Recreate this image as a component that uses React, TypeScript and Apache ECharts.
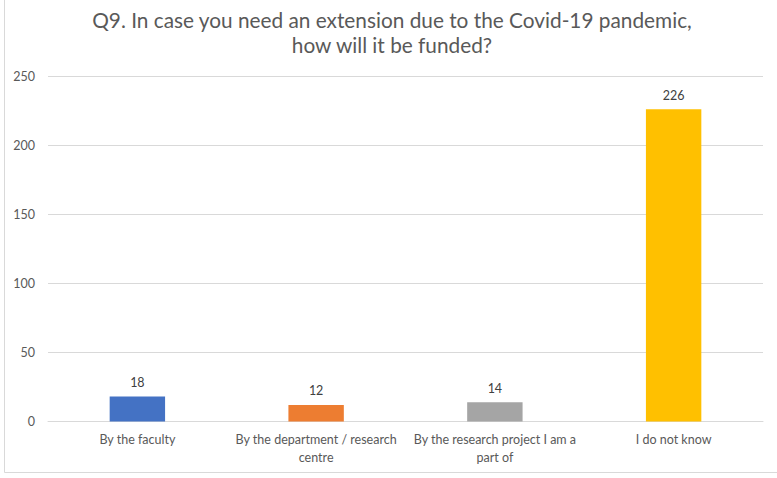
import React, { useEffect, useRef } from "react";
import * as echarts from "echarts";

const titleText = "Q9. In case you need an extension due to the Covid-19 pandemic,\nhow will it be funded?";
const categories = [
  "By the faculty",
  "By the department / research\ncentre",
  "By the research project I am a\npart of",
  "I do not know",
];
const values = [18, 12, 14, 226];
const barColors = ["#4472C4", "#ED7D31", "#A5A5A5", "#FFC000"];
const yMin = 0;
const yMax = 250;
const yStep = 50;

const FONT = "Lato, 'Open Sans', sans-serif";

export default function App() {
  const ref = useRef<HTMLDivElement>(null);

  useEffect(() => {
    if (!ref.current) return;
    const chart = echarts.init(ref.current, undefined, { renderer: "svg" });
    chart.setOption({
      animation: false,
      backgroundColor: "#ffffff",
      textStyle: { fontFamily: FONT },
      title: {
        text: titleText,
        left: 387,
        textAlign: "center",
        top: 2,
        textStyle: {
          fontFamily: FONT,
          fontSize: 20.8,
          fontWeight: "normal",
          color: "#595959",
          lineHeight: 25,
        },
      },
      grid: { left: 48, right: 14, top: 76, bottom: 56.5, containLabel: false },
      xAxis: {
        type: "category",
        data: categories,
        axisLine: { show: true, lineStyle: { color: "#d9d9d9", width: 1 } },
        axisTick: { show: false },
        axisLabel: {
          interval: 0,
          color: "#595959",
          fontFamily: FONT,
          fontSize: 12.5,
          lineHeight: 18,
          margin: 8.5,
        },
      },
      yAxis: {
        type: "value",
        min: yMin,
        max: yMax,
        interval: yStep,
        axisLine: { show: false },
        axisTick: { show: false },
        splitLine: { lineStyle: { color: "#d9d9d9", width: 1 } },
        axisLabel: {
          color: "#595959",
          fontFamily: FONT,
          fontSize: 12.5,
          margin: 13,
        },
      },
      series: [
        {
          type: "bar",
          barWidth: "31%",
          data: values.map((v, i) => ({ value: v, itemStyle: { color: barColors[i] } })),
          label: {
            show: true,
            position: "top",
            distance: 7.5,
            color: "#404040",
            fontFamily: FONT,
            fontSize: 12.5,
          },
        },
      ],
      graphic: [
        {
          type: "polyline",
          silent: true,
          shape: { points: [[4.5, 0], [4.5, 472.5], [777, 472.5]] },
          style: { stroke: "#d9d9d9", lineWidth: 1, fill: "none" },
        },
      ],
    });
    return () => chart.dispose();
  }, []);

  return (
    <div
      ref={ref}
      style={{ position: "fixed", left: 0, top: 0, width: 777, height: 478 }}
    />
  );
}
